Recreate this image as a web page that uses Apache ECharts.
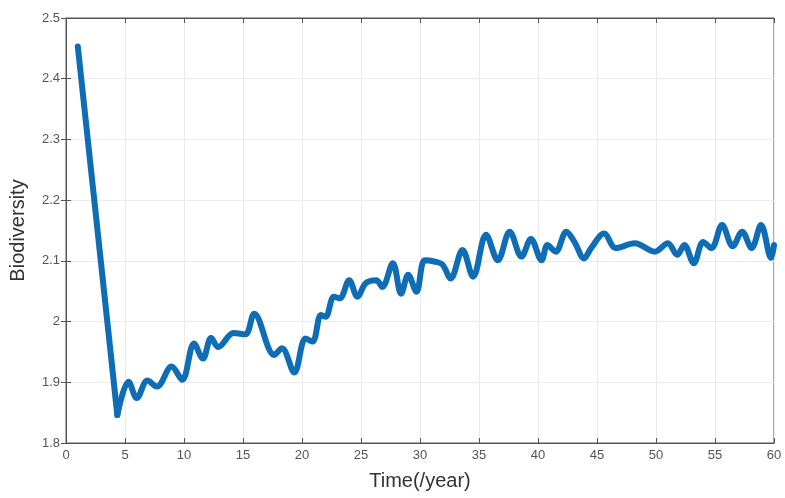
<!DOCTYPE html>
<html>
	<head>
		<meta charset="UTF-8">
		<title>Biodiversity</title>
		<style>
			html, body { margin: 0; padding: 0; background: #fff; }
			#main { width: 785px; height: 498px; }
		</style>
	</head>
	<body>
		<div id="main"></div>
	</body>
	<script type="text/javascript" src="https://cdn.jsdelivr.net/npm/echarts@6/dist/echarts.min.js"></script>
	<script type="text/javascript">
		// values
		// the first drop is a straight run, the rest wiggles
		var dropYears = [1, 4.35];
		var dropValues = [2.453, 1.846];
		var years = [4.35, 5.3, 6.0, 6.9, 7.7, 8.95, 9.85, 10.85, 11.6, 12.3, 12.9, 14.2, 15.2, 15.95,
			17.65, 18.3, 19.35, 20.3, 20.9, 21.6, 22.0, 22.7, 23.2, 24.0, 24.7, 25.4, 26.3, 26.8, 27.7,
			28.4, 29.0, 29.7, 30.4, 31.2, 31.9, 32.6, 33.6, 34.5, 35.6, 36.6, 37.6, 38.6, 39.4, 40.3,
			40.8, 41.5, 42.4, 43.1, 43.9, 44.5, 45.6, 46.6, 48.2, 49.9, 51.0, 51.8, 52.4, 53.2, 54.0,
			54.7, 55.6, 56.5, 57.3, 58.1, 58.9, 59.75, 60];
		var biodiversity = [1.846, 1.901, 1.874, 1.903, 1.893, 1.926, 1.904, 1.964, 1.939, 1.973, 1.958, 1.981, 1.979, 2.013,
			1.945, 1.956, 1.916, 1.972, 1.967, 2.011, 2.008, 2.041, 2.038, 2.068, 2.041, 2.063, 2.068, 2.057, 2.096,
			2.046, 2.077, 2.049, 2.101, 2.099, 2.094, 2.071, 2.118, 2.074, 2.143, 2.101, 2.148, 2.107, 2.136, 2.101,
			2.126, 2.115, 2.148, 2.131, 2.104, 2.121, 2.145, 2.121, 2.129, 2.115, 2.129, 2.110, 2.126, 2.096, 2.131,
			2.121, 2.159, 2.124, 2.148, 2.121, 2.159, 2.105, 2.126];
		var xTicks = [0, 5, 10, 15, 20, 25, 30, 35, 40, 45, 50, 55, 60];
		var yTicks = [1.8, 1.9, 2, 2.1, 2.2, 2.3, 2.4, 2.5];

		function toPoints(xs, ys) {
			var pts = [];
			for (var i = 0; i < xs.length; i++) {
				pts.push([xs[i], ys[i]]);
			}
			return pts;
		}

		var lineColor = '#0e6db5';
		var gridColor = '#ebebeb';
		var axisColor = '#555';
		var labelFont = { fontSize: 13, color: '#555', fontFamily: 'Liberation Sans' };
		var myChart = echarts.init(document.getElementById('main'));
		var option = {
			animation: false,
			grid: {
				left: 65,
				right: 11,
				top: 18,
				bottom: 55,
				show: true,
				borderColor: axisColor,
				borderWidth: 1
			},
			xAxis: [{
				type: 'value',
				min: xTicks[0],
				max: xTicks[xTicks.length - 1],
				interval: 5,
				name: 'Time(/year)',
				nameLocation: 'middle',
				nameGap: 28,
				nameTextStyle: { fontSize: 20, color: '#333', fontFamily: 'Liberation Sans' },
				axisLine: { lineStyle: { color: axisColor } },
				axisTick: { inside: true, length: 5, lineStyle: { color: axisColor } },
				axisLabel: Object.assign({ margin: 6 }, labelFont),
				splitLine: { lineStyle: { color: gridColor } }
			}, {
				type: 'value',
				position: 'top',
				min: xTicks[0],
				max: xTicks[xTicks.length - 1],
				interval: 5,
				axisLine: { lineStyle: { color: axisColor } },
				axisTick: { inside: true, length: 5, lineStyle: { color: axisColor } },
				axisLabel: { show: false },
				splitLine: { show: false }
			}],
			yAxis: [{
				type: 'value',
				min: yTicks[0],
				max: yTicks[yTicks.length - 1],
				interval: 0.1,
				name: 'Biodiversity',
				nameLocation: 'middle',
				nameGap: 38,
				nameTextStyle: { fontSize: 20, color: '#333', fontFamily: 'Liberation Sans' },
				axisLine: { show: true, lineStyle: { color: axisColor } },
				axisTick: { show: true, inside: true, length: 5, lineStyle: { color: axisColor } },
				axisLabel: Object.assign({
					margin: 6,
					formatter: function (v) { return String(Math.round(v * 10) / 10); }
				}, labelFont),
				splitLine: { lineStyle: { color: gridColor } }
			}, {
				type: 'value',
				position: 'right',
				min: yTicks[0],
				max: yTicks[yTicks.length - 1],
				interval: 0.1,
				axisLine: { show: true, lineStyle: { color: axisColor } },
				axisTick: { show: true, inside: true, length: 5, lineStyle: { color: axisColor } },
				axisLabel: { show: false },
				splitLine: { show: false }
			}],
			series: [{
				type: 'line',
				data: toPoints(dropYears, dropValues),
				showSymbol: false,
				lineStyle: { color: lineColor, width: 6, cap: 'round', join: 'round' }
			}, {
				type: 'line',
				data: toPoints(years, biodiversity),
				smooth: 0.35,
				showSymbol: false,
				lineStyle: { color: lineColor, width: 6, cap: 'round', join: 'round' }
			}]
		};
		myChart.setOption(option);
	</script>
</html>
